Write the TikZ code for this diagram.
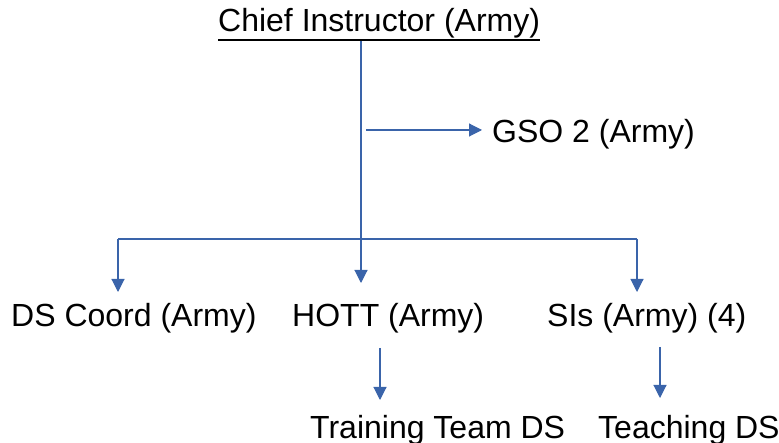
\documentclass[tikz,border=0pt]{standalone}
\usepackage{fontspec}
\setmainfont{Liberation Sans}
\usetikzlibrary{arrows.meta}
\definecolor{linkblue}{RGB}{58,100,170}
\begin{document}
\begin{tikzpicture}[x=1pt,y=-1pt,
  lbl/.style={inner sep=0pt, anchor=base west, font=\fontsize{32}{38}\selectfont},
  wire/.style={draw=linkblue, line width=1.1pt},
  link/.style={wire, -{Triangle[width=13pt,length=13pt]}}]
\useasboundingbox (0,0) rectangle (779,443);

% labels
\node[lbl] (chief) at (218,32) {Chief Instructor (Army)};
\node[lbl] (gso) at (492,143) {GSO 2 (Army)};
\node[lbl] (dscoord) at (11,327) {DS Coord (Army)};
\node[lbl] (hott) at (292,327) {HOTT (Army)};
\node[lbl] (sis) at (547,327) {SIs (Army) (4)};
\node[lbl] (ttds) at (310,438) {Training Team DS};
\node[lbl] (tds) at (598,438) {Teaching DS};

% underline of the title
\draw[line width=1.4pt] ([yshift=-8pt]chief.base west) -- ([yshift=-8pt]chief.base east);

% junction points
\coordinate (trunktop) at (361,41);
\coordinate (trunktip) at (361,283);
\coordinate (gsofrom) at (366,130);
\coordinate (gsotip) at (482,130);
\coordinate (branchL) at (118,239);
\coordinate (branchR) at (637,239);
\coordinate (leftTip) at (118,292);
\coordinate (rightTip) at (637,292);
\coordinate (hottDown) at (380,348);
\coordinate (hottTip) at (380,400);
\coordinate (sisDown) at (660,347);
\coordinate (sisTip) at (660,398);

% connectors
\draw[link] (trunktop) -- (trunktip);
\draw[link] (gsofrom) -- (gsotip);
\draw[wire] (branchL) -- (branchR);
\draw[link] (branchL) -- (leftTip);
\draw[link] (branchR) -- (rightTip);
\draw[link] (hottDown) -- (hottTip);
\draw[link] (sisDown) -- (sisTip);
\end{tikzpicture}
\end{document}
